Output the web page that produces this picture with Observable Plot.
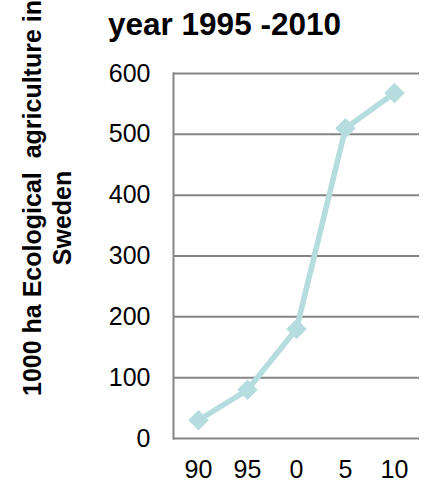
<!DOCTYPE html>
<html>
<head>
<meta charset="utf-8">
<script src="https://cdn.jsdelivr.net/npm/d3@7"></script>
<script src="https://cdn.jsdelivr.net/npm/@observablehq/plot@0.6"></script>
<style>
  html, body { margin: 0; padding: 0; background: #fff; }
  #chart svg { display: block; }
</style>
</head>
<body>
<div id="chart"></div>
<script>
// Ecological agriculture in Sweden, 1000 ha, 1990-2010
const years = ["90", "95", "0", "5", "10"];
const hectares = [30, 80, 180, 510, 568];
const yTicks = [0, 100, 200, 300, 400, 500, 600];
const titleText = "year 1995 -2010";
const yLabelLine1 = "1000 ha Ecological  agriculture in";
const yLabelLine2 = "Sweden";

const data = years.map((year, i) => ({year, value: hectares[i]}));

const lineColor = "#b5dcdf";
const gridColor = "#858585";
const font = "'Liberation Sans', Arial, sans-serif";

const chart = Plot.plot({
  width: 423,
  height: 482,
  marginLeft: 173,
  marginRight: 4,
  marginTop: 73,
  marginBottom: 44,
  style: {fontFamily: font, fontSize: "25px", color: "#000", background: "#fff"},
  x: {type: "point", domain: years, padding: 0.5, label: null},
  y: {domain: [0, 600], ticks: yTicks, label: null},
  marks: [
    Plot.gridY(yTicks, {stroke: gridColor, strokeOpacity: 1, strokeWidth: 2}),
    Plot.frame({anchor: "left", stroke: gridColor, strokeWidth: 2}),
    Plot.axisY({ticks: yTicks, tickSize: 0, tickPadding: 23, fontSize: 25}),
    Plot.axisX({tickSize: 0, tickPadding: 22, fontSize: 25}),
    Plot.line(data, {x: "year", y: "value", stroke: lineColor, strokeWidth: 5.5}),
    Plot.dot(data, {x: "year", y: "value", symbol: "diamond2", r: 9.2, fill: lineColor, stroke: "none"}),
    Plot.text([titleText], {
      frameAnchor: "top", dx: -72, dy: -49, fontSize: 31.5, fontWeight: "bold",
      textAnchor: "middle", lineAnchor: "middle", fill: "#000"
    }),
    Plot.text([yLabelLine1], {
      frameAnchor: "left", rotate: -90, dx: -140.5, dy: -58, fontSize: 25, fontWeight: "bold",
      textAnchor: "middle", lineAnchor: "middle", fill: "#000"
    }),
    Plot.text([yLabelLine2], {
      frameAnchor: "left", rotate: -90, dx: -111, dy: -38, fontSize: 25, fontWeight: "bold",
      textAnchor: "middle", lineAnchor: "middle", fill: "#000"
    })
  ]
});

document.getElementById("chart").appendChild(chart);
</script>
</body>
</html>
